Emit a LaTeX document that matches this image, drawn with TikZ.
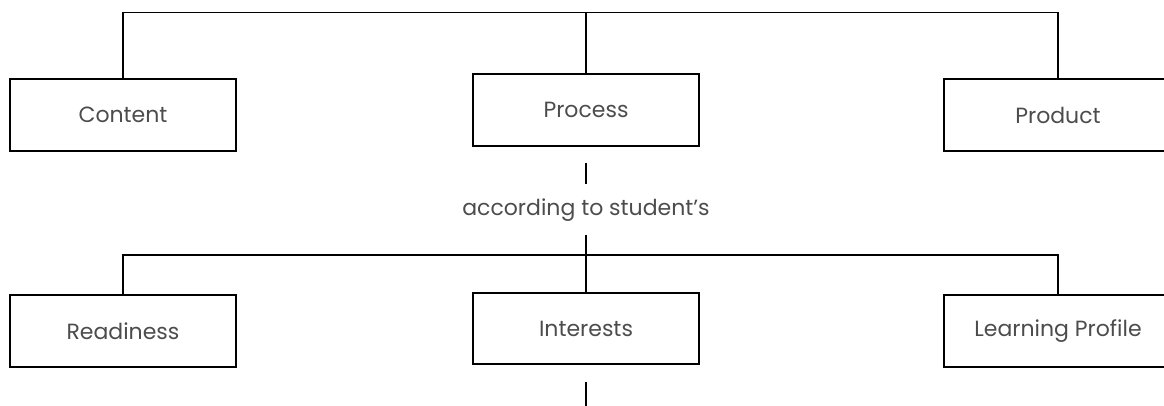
\documentclass[tikz,border=0pt]{standalone}
\usepackage{fontspec}
\setmainfont{Poppins}
\begin{document}
\begin{tikzpicture}[x=1pt, y=-1pt,
                    box/.style={draw, line width=1.4pt, minimum width=226pt, minimum height=72pt,
                                inner sep=0pt, font=\fontsize{22}{26}\selectfont, text=black!70},
                    link/.style={line width=1.4pt}]
  \useasboundingbox (0,0) rectangle (1164,406);
  \clip (0,0) rectangle (1164,406);
  \node[box] (content) at (123,115) {Content};
  \node[box] (process) at (586,110) {Process};
  \node[box, minimum width=228pt] (product) at (1058,115) {Product};
  \node[box] (readiness) at (123,331) {Readiness};
  \node[box, minimum height=71pt] (interests) at (586,328.5) {Interests};
  \node[box, minimum width=228pt] (profile) at (1058,331) {Learning Profile};
  \node[font=\fontsize{22}{26}\selectfont, text=black!70] (student) at (586,210) {according to student's};
  \coordinate (top) at (586,12.5);
  \coordinate (mid) at (586,255);
  \coordinate (stubA) at (586,163);
  \coordinate (stubB) at (586,184);
  \coordinate (join) at (586,235);
  \coordinate (endA) at (586,382);
  \coordinate (endB) at (586,406);
  \draw[link] (content.north) |- (top) -| (product.north);
  \draw[link] (top) -- (process.north);
  \draw[link] (stubA) -- (stubB);
  \draw[link] (join) -- (interests.north);
  \draw[link] (readiness.north) |- (mid) -| (profile.north);
  \draw[link] (endA) -- (endB);
\end{tikzpicture}
\end{document}
